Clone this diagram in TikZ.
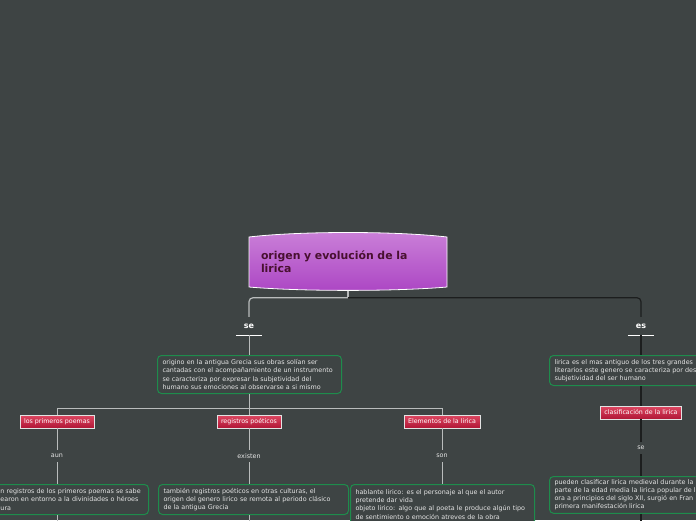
\documentclass[tikz,border=0pt]{standalone}
\usepackage{fontspec}
\setmainfont{DejaVu Sans}
\usetikzlibrary{calc}
\definecolor{bg}{RGB}{62,68,68}
\definecolor{boxgreen}{RGB}{30,140,76}
\definecolor{txt}{RGB}{228,228,228}
\definecolor{redtop}{RGB}{222,72,98}
\definecolor{redbot}{RGB}{176,22,54}
\definecolor{purtop}{RGB}{202,128,216}
\definecolor{purbot}{RGB}{172,70,196}
\definecolor{titletxt}{RGB}{72,16,48}
\definecolor{lline}{RGB}{185,188,188}
\definecolor{dline}{RGB}{28,30,30}
\tikzset{
  textbox/.style={draw=boxgreen, line width=1, rounded corners=4, fill=bg, text=txt,
    font=\fontsize{6.4}{8.2}\selectfont, align=left, inner xsep=5, inner ysep=3, anchor=north west},
  redbox/.style={draw=white!78!gray, line width=0.6, top color=redtop, bottom color=redbot,
    text=white, font=\fontsize{6.3}{7}\selectfont, minimum height=13, inner xsep=4, inner ysep=0},
  toplabel/.style={text=white, font=\bfseries\fontsize{8}{9}\selectfont, minimum width=26,
    minimum height=18, inner sep=0},
  smalllabel/.style={text=txt, font=\fontsize{6.4}{7}\selectfont, minimum height=12, inner sep=0},
  lconn/.style={draw=lline, line width=0.9},
  dconn/.style={draw=dline, line width=1.1},
}
\begin{document}
\begin{tikzpicture}[x=1pt,y=-1pt]
\useasboundingbox (0,0) rectangle (696,520);
\clip (0,0) rectangle (696,520);
\fill[bg] (0,0) rectangle (696,520);

% root
\shadedraw[top color=purtop, bottom color=purbot, draw=white, line width=0.8]
  (249,237) .. controls (300,231) and (396,231) .. (447,237) -- (447,287)
  .. controls (396,291.5) and (300,291.5) .. (249,287) -- cycle;
\node[minimum width=198, minimum height=57, text width=174, inner xsep=12, align=left,
  font=\bfseries\fontsize{10.9}{13}\selectfont, text=titletxt] (root) at (348,262)
  {origen y evolución de la\\lirica};

% top labels
\node[toplabel] (se) at (249,326) {se};
\node[toplabel] (es) at (641,326) {es};
\draw[white, line width=0.8] (se.south west) -- (se.south east);
\draw[white, line width=0.8] (es.south west) -- (es.south east);

\coordinate (hubtop) at ($(root.south)+(0,7)$);
\draw[lconn, line width=1.2] (root.south) -- (hubtop);
\draw[lconn, line width=1.2, rounded corners=4] (hubtop) -| (se.north);
\draw[dconn, line width=1.2, rounded corners=4] (hubtop) -| (es.north);

% left branch
\node[textbox, text width=174, minimum height=38] (orig) at (157,355)
  {origino en la antigua Grecia sus obras solían ser\\
   cantadas con el acompañamiento de un instrumento\\
   se caracteriza por expresar la subjetividad del\\
   humano sus emociones al observarse a si mismo};
\draw[lconn] (se.south) -- (se.south |- orig.north);

\node[redbox] (prim) at (57,421.5) {los primeros poemas};
\node[redbox] (reg) at (249,421.5) {registros poéticos};
\node[redbox] (elem) at (442,421.5) {Elementos de la lirica};

\coordinate (hub) at (249,408);
\draw[lconn] (se.south |- orig.south) -- (hub);
\draw[lconn] (hub) -| (prim.north);
\draw[lconn] (hub) -| (elem.north);
\draw[lconn] (hub) -- (reg.north);

\node[smalllabel] (aun) at (57,456) {aun};
\node[smalllabel] (exi) at (249,456) {existen};
\node[smalllabel] (son) at (442,456) {son};
\draw[lconn] (prim.south) -- (aun.north);
\draw[lconn] (reg.south) -- (exi.north);
\draw[lconn] (elem.south) -- (son.north);

\node[textbox, text width=143, minimum height=30] (b1) at (-5,484)
  {\mbox{n registros de los primeros poemas se sabe}\\
   \mbox{earon en entorno a la divinidades o héroes}\\
   ura};
\node[textbox, text width=180, minimum height=30] (b2) at (158,484)
  {también registros poéticos en otras culturas, el\\
   \mbox{origen del genero lirico se remota al periodo clásico}\\
   de la antigua Grecia};
\node[textbox, text width=174, minimum height=40] (b3) at (350,484)
  {hablante lirico: es el personaje al que el autor\\
   pretende dar vida\\
   \mbox{objeto lirico: algo que al poeta le produce algún tipo}\\
   de sentimiento o emoción atreves de la obra};
\draw[lconn] (aun.south) -- (aun.south |- b1.north);
\draw[lconn] (exi.south) -- (exi.south |- b2.north);
\draw[lconn] (son.south) -- (son.south |- b3.north);

\coordinate (c1) at (57,530);
\coordinate (c2) at (249,530);
\coordinate (c3) at (442,530);
\draw[lconn] (aun |- b1.south) -- (c1);
\draw[lconn] (exi |- b2.south) -- (c2);
\draw[lconn] (son |- b3.south) -- (c3);

% right branch
\node[textbox, text width=200, minimum height=30] (b4) at (549,355)
  {lirica es el mas antiguo de los tres grandes\\
   literarios este genero se caracteriza por des\\
   subjetividad del ser humano};
\draw[dconn] (es.south) -- (es.south |- b4.north);

\node[redbox] (clas) at (641,412.5) {clasificación de la lirica};
\draw[dconn] (es |- b4.south) -- (clas.north);

\node[smalllabel] (se2) at (641,448) {se};
\draw[dconn] (clas.south) -- (se2.north);

\node[textbox, text width=200, minimum height=34] (b5) at (549,476)
  {pueden clasificar lirica medieval durante la\\
   parte de la edad media la lirica popular de l\\
   ora a principios del siglo XII, surgió en Fran\\
   primera manifestación lirica};
\draw[dconn] (se2.south) -- (se2.south |- b5.north);
\coordinate (c4) at (641,530);
\draw[dconn] (se2 |- b5.south) -- (c4);
\end{tikzpicture}
\end{document}
